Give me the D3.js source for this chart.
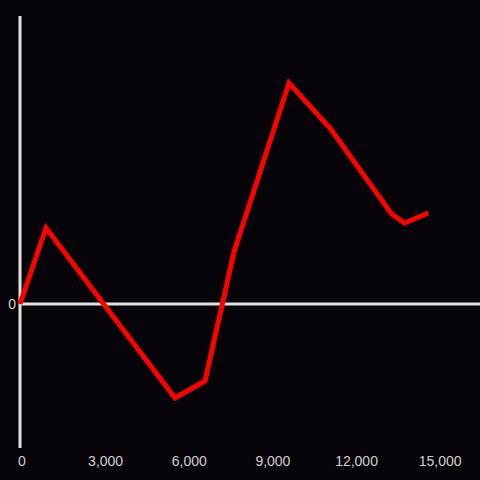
<!DOCTYPE html>
<html>
<head>
<meta charset="utf-8">
<script src="https://cdn.jsdelivr.net/npm/d3@7"></script>
<style>
  html, body { margin: 0; padding: 0; background: #060408; }
  svg { display: block; }
</style>
</head>
<body>
<script>
// values
var xValues = [0, 933, 5560, 6636, 7676, 9648, 11119, 13330, 13795, 14644];
var yValues = [0, 76, -94, -77, 52, 221, 176, 90, 81, 91];
var xTicks = [0, 3000, 6000, 9000, 12000, 15000];
var yTicks = [0];

var width = 480, height = 480;

var svg = d3.select("body").append("svg")
  .attr("width", width)
  .attr("height", height);

svg.append("rect")
  .attr("width", width)
  .attr("height", height)
  .attr("fill", "#060408");

var x = d3.scaleLinear().domain([0, 16500]).range([20, 480]);
var y = d3.scaleLinear().domain([-144, 288]).range([448, 16]);

// y axis line
svg.append("line")
  .attr("x1", x(0)).attr("x2", x(0))
  .attr("y1", y(-144)).attr("y2", y(288))
  .attr("stroke", "#e2e2e2")
  .attr("stroke-width", 3);

// zero line
svg.append("line")
  .attr("x1", x(0)).attr("x2", width)
  .attr("y1", y(0)).attr("y2", y(0))
  .attr("stroke", "#e2e2e2")
  .attr("stroke-width", 3);

// x tick labels
svg.selectAll("text.xt")
  .data(xTicks)
  .enter()
  .append("text")
    .attr("class", "xt")
    .attr("x", function(d) { return x(d) + 2; })
    .attr("y", 466)
    .attr("text-anchor", "middle")
    .attr("fill", "#cfcfcf")
    .style("font", "14px 'Liberation Sans', Arial, sans-serif")
    .text(function(d) { return d3.format(",")(d); });

// y tick labels
svg.selectAll("text.yt")
  .data(yTicks)
  .enter()
  .append("text")
    .attr("class", "yt")
    .attr("x", 16)
    .attr("y", function(d) { return y(d) + 5; })
    .attr("text-anchor", "end")
    .attr("fill", "#cfcfcf")
    .style("font", "14px 'Liberation Sans', Arial, sans-serif")
    .text(function(d) { return d; });

var points = xValues.map(function(v, i) { return [v, yValues[i]]; });

var line = d3.line()
  .x(function(d) { return x(d[0]); })
  .y(function(d) { return y(d[1]); });

svg.append("path")
  .datum(points)
  .attr("d", line)
  .attr("fill", "none")
  .attr("stroke", "#ff0000")
  .attr("stroke-width", 5);
</script>
</body>
</html>
